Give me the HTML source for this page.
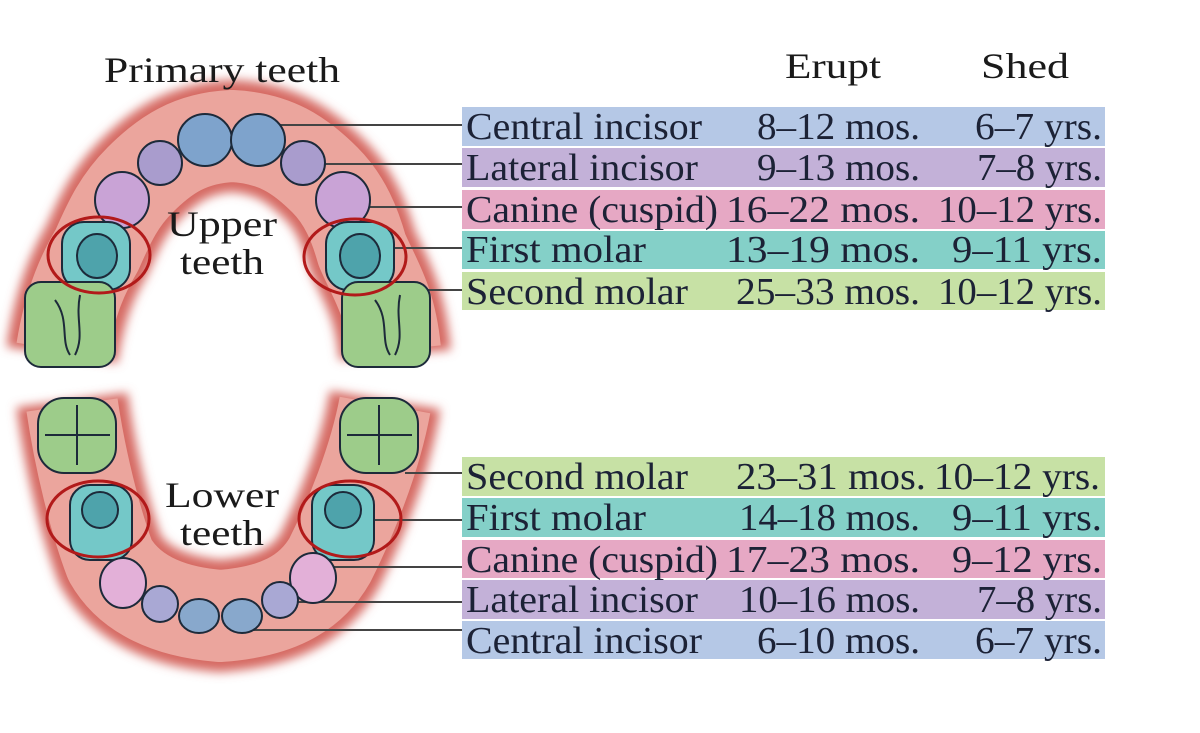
<!DOCTYPE html>
<html><head><style>body{margin:0;background:#fff}svg{display:block}</style></head>
<body>
<svg width="1200" height="733" viewBox="0 0 1200 733" xmlns="http://www.w3.org/2000/svg" style="font-family:'Liberation Serif',serif">
<defs>
<filter id="b" x="-20%" y="-20%" width="140%" height="140%"><feGaussianBlur stdDeviation="5"/></filter>
</defs>
<!-- gums -->
<g filter="url(#b)" fill="none" stroke-linecap="butt" stroke-linejoin="round">
<path d="M62 355 C70 300 85 270 97 250 C110 220 120 200 140 180 C165 155 190 138 232 136 C275 138 300 155 325 180 C345 200 355 225 362 250 C375 280 390 300 395 355" stroke="#d66a64" stroke-width="112"/>
<path d="M72 400 C80 460 95 520 110 560 C130 595 170 612 220 616 C275 612 310 595 330 560 C350 520 375 460 385 400" stroke="#d66a64" stroke-width="112"/>
</g>
<g fill="none" stroke-linecap="butt" stroke-linejoin="round">
<path d="M62 350 C70 300 85 270 97 250 C110 220 120 200 140 180 C165 155 190 138 232 136 C275 138 300 155 325 180 C345 200 355 225 362 250 C375 280 390 300 395 350" stroke="#eba59d" stroke-width="92"/>
<path d="M72 405 C80 460 95 520 110 560 C130 595 170 612 220 616 C275 612 310 595 330 560 C350 520 375 460 385 405" stroke="#eba59d" stroke-width="92"/>
</g>
<!-- connectors -->
<g stroke="#444" stroke-width="2">
<line x1="262" y1="125" x2="462" y2="125"/>
<line x1="310" y1="164" x2="462" y2="164"/>
<line x1="350" y1="207" x2="462" y2="207"/>
<line x1="395" y1="248" x2="462" y2="248"/>
<line x1="420" y1="290" x2="462" y2="290"/>
<line x1="405" y1="473" x2="462" y2="473"/>
<line x1="375" y1="520" x2="462" y2="520"/>
<line x1="330" y1="567" x2="462" y2="567"/>
<line x1="290" y1="602" x2="462" y2="602"/>
<line x1="250" y1="630" x2="462" y2="630"/>
</g>
<!-- teeth -->
<g stroke="#1d2a3a" stroke-width="2">
<ellipse cx="205" cy="140" rx="27" ry="26" fill="#7ea3cc"/>
<ellipse cx="258" cy="140" rx="27" ry="26" fill="#7ea3cc"/>
<ellipse cx="160" cy="163" rx="22" ry="22" fill="#a99ccd"/>
<ellipse cx="303" cy="163" rx="22" ry="22" fill="#a99ccd"/>
<ellipse cx="122" cy="200" rx="27" ry="28" fill="#c9a3d6"/>
<ellipse cx="343" cy="200" rx="27" ry="28" fill="#c9a3d6"/>
<rect x="62" y="222" width="68" height="68" rx="22" fill="#74c8c8"/>
<rect x="326" y="222" width="68" height="68" rx="22" fill="#74c8c8"/>
<ellipse cx="97" cy="256" rx="20" ry="22" fill="#4ea3ab"/>
<ellipse cx="360" cy="256" rx="20" ry="22" fill="#4ea3ab"/>
<rect x="25" y="282" width="90" height="85" rx="16" fill="#9dcc8a"/>
<rect x="342" y="282" width="88" height="85" rx="16" fill="#9dcc8a"/>
<path d="M55 300 C70 320 60 340 70 355 M80 295 C75 320 85 335 75 355" fill="none"/>
<path d="M375 300 C390 320 380 340 390 355 M400 295 C395 320 405 335 395 355" fill="none"/>
<rect x="38" y="398" width="78" height="75" rx="26" fill="#9dcc8a"/>
<rect x="340" y="398" width="78" height="75" rx="26" fill="#9dcc8a"/>
<path d="M77 405 V465 M45 435 H110 M379 405 V465 M347 435 H412" fill="none"/>
<rect x="70" y="485" width="62" height="75" rx="20" fill="#74c8c8"/>
<rect x="312" y="485" width="62" height="75" rx="20" fill="#74c8c8"/>
<ellipse cx="100" cy="510" rx="18" ry="18" fill="#4ea3ab"/>
<ellipse cx="343" cy="510" rx="18" ry="18" fill="#4ea3ab"/>
<ellipse cx="123" cy="583" rx="23" ry="25" fill="#e3b0d8"/>
<ellipse cx="313" cy="578" rx="23" ry="25" fill="#e3b0d8"/>
<ellipse cx="160" cy="604" rx="18" ry="18" fill="#a9a8d4"/>
<ellipse cx="280" cy="600" rx="18" ry="18" fill="#a9a8d4"/>
<ellipse cx="199" cy="616" rx="20" ry="17" fill="#88a8cc"/>
<ellipse cx="242" cy="616" rx="20" ry="17" fill="#88a8cc"/>
</g>
<g fill="none" stroke="#b21a1a" stroke-width="3">
<ellipse cx="99" cy="255" rx="51" ry="38"/>
<ellipse cx="355" cy="257" rx="51" ry="38"/>
<ellipse cx="98" cy="519" rx="51" ry="38"/>
<ellipse cx="350" cy="519" rx="51" ry="38"/>
</g>
<g fill="#1a1a1a" font-size="36">
<text x="104" y="82" textLength="236" lengthAdjust="spacingAndGlyphs">Primary teeth</text>
<text x="785" y="78" textLength="96" lengthAdjust="spacingAndGlyphs">Erupt</text>
<text x="981" y="78" textLength="88" lengthAdjust="spacingAndGlyphs">Shed</text>
<text x="167" y="236" textLength="110" lengthAdjust="spacingAndGlyphs">Upper</text>
<text x="180" y="274" textLength="84" lengthAdjust="spacingAndGlyphs">teeth</text>
<text x="165" y="507" textLength="114" lengthAdjust="spacingAndGlyphs">Lower</text>
<text x="180" y="545" textLength="84" lengthAdjust="spacingAndGlyphs">teeth</text>
</g>
<g>
<rect x="462" y="107" width="643" height="39" fill="#b5c8e6"/>
<rect x="462" y="148" width="643" height="39" fill="#c3b1d8"/>
<rect x="462" y="190" width="643" height="39" fill="#e6a8c4"/>
<rect x="462" y="231" width="643" height="38" fill="#84d0c8"/>
<rect x="462" y="272" width="643" height="38" fill="#c7e1a5"/>
<rect x="462" y="457" width="643" height="39" fill="#c7e1a5"/>
<rect x="462" y="498" width="643" height="39" fill="#84d0c8"/>
<rect x="462" y="540" width="643" height="38" fill="#e6a8c4"/>
<rect x="462" y="580" width="643" height="39" fill="#c3b1d8"/>
<rect x="462" y="621" width="643" height="38" fill="#b5c8e6"/>
</g>
<g fill="#1c2236" font-size="38">
<text x="466" y="139" textLength="236" lengthAdjust="spacingAndGlyphs">Central incisor</text>
<text x="757" y="139" textLength="163" lengthAdjust="spacingAndGlyphs">8–12 mos.</text>
<text x="975" y="139" textLength="127" lengthAdjust="spacingAndGlyphs">6–7 yrs.</text>
<text x="466" y="180" textLength="232" lengthAdjust="spacingAndGlyphs">Lateral incisor</text>
<text x="757" y="180" textLength="163" lengthAdjust="spacingAndGlyphs">9–13 mos.</text>
<text x="977" y="180" textLength="125" lengthAdjust="spacingAndGlyphs">7–8 yrs.</text>
<text x="466" y="222" textLength="252" lengthAdjust="spacingAndGlyphs">Canine (cuspid)</text>
<text x="726" y="222" textLength="194" lengthAdjust="spacingAndGlyphs">16–22 mos.</text>
<text x="938" y="222" textLength="164" lengthAdjust="spacingAndGlyphs">10–12 yrs.</text>
<text x="466" y="262" textLength="180" lengthAdjust="spacingAndGlyphs">First molar</text>
<text x="726" y="262" textLength="194" lengthAdjust="spacingAndGlyphs">13–19 mos.</text>
<text x="952" y="262" textLength="150" lengthAdjust="spacingAndGlyphs">9–11 yrs.</text>
<text x="466" y="304" textLength="222" lengthAdjust="spacingAndGlyphs">Second molar</text>
<text x="736" y="304" textLength="184" lengthAdjust="spacingAndGlyphs">25–33 mos.</text>
<text x="938" y="304" textLength="164" lengthAdjust="spacingAndGlyphs">10–12 yrs.</text>
<text x="466" y="489" textLength="222" lengthAdjust="spacingAndGlyphs">Second molar</text>
<text x="736" y="489" textLength="190" lengthAdjust="spacingAndGlyphs">23–31 mos.</text>
<text x="934" y="489" textLength="166" lengthAdjust="spacingAndGlyphs">10–12 yrs.</text>
<text x="466" y="530" textLength="180" lengthAdjust="spacingAndGlyphs">First molar</text>
<text x="739" y="530" textLength="181" lengthAdjust="spacingAndGlyphs">14–18 mos.</text>
<text x="952" y="530" textLength="150" lengthAdjust="spacingAndGlyphs">9–11 yrs.</text>
<text x="466" y="572" textLength="252" lengthAdjust="spacingAndGlyphs">Canine (cuspid)</text>
<text x="726" y="572" textLength="194" lengthAdjust="spacingAndGlyphs">17–23 mos.</text>
<text x="952" y="572" textLength="150" lengthAdjust="spacingAndGlyphs">9–12 yrs.</text>
<text x="466" y="612" textLength="232" lengthAdjust="spacingAndGlyphs">Lateral incisor</text>
<text x="739" y="612" textLength="181" lengthAdjust="spacingAndGlyphs">10–16 mos.</text>
<text x="977" y="612" textLength="125" lengthAdjust="spacingAndGlyphs">7–8 yrs.</text>
<text x="466" y="653" textLength="236" lengthAdjust="spacingAndGlyphs">Central incisor</text>
<text x="757" y="653" textLength="163" lengthAdjust="spacingAndGlyphs">6–10 mos.</text>
<text x="975" y="653" textLength="127" lengthAdjust="spacingAndGlyphs">6–7 yrs.</text>
</g>
</svg>
</body></html>
